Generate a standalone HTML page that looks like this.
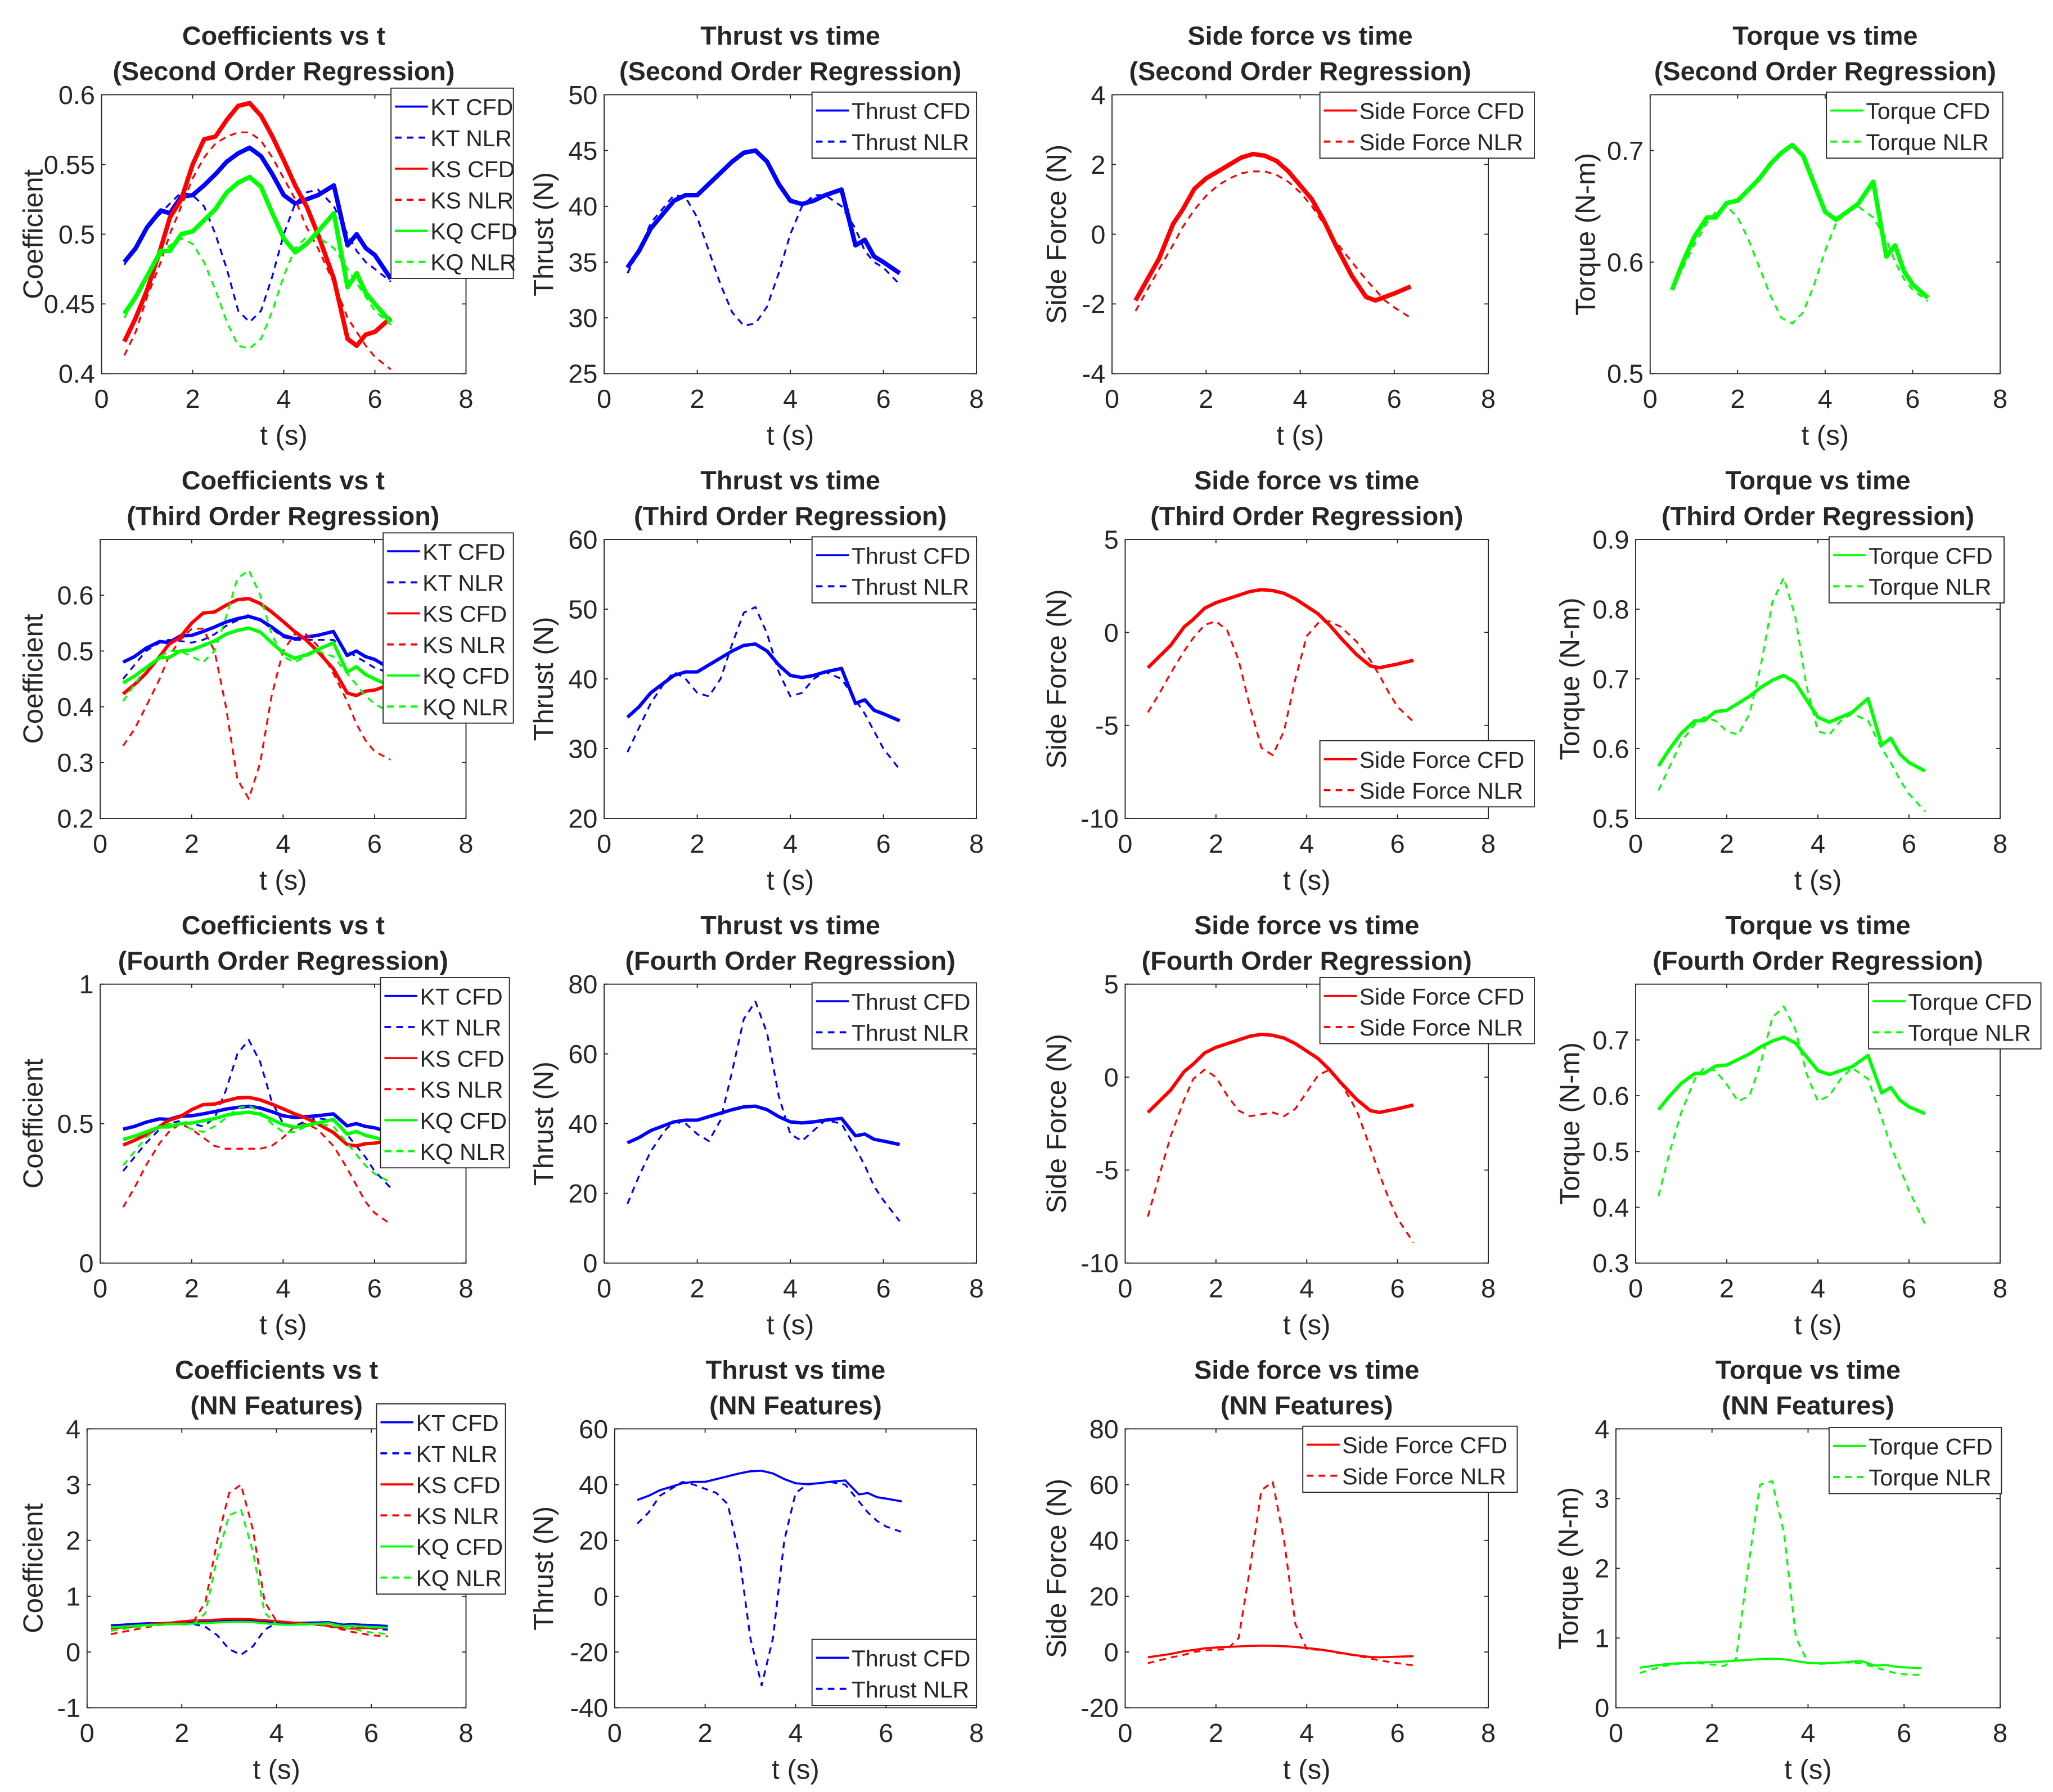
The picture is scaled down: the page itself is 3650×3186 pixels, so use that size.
<!DOCTYPE html>
<html><head><meta charset="utf-8"><style>
html,body{margin:0;padding:0;background:#fff;}
svg{display:block;}
text{font-family:"Liberation Sans",sans-serif;fill:#262626;}
</style></head><body>
<svg id="fig" xmlns="http://www.w3.org/2000/svg" width="3650" height="3186" viewBox="0 0 1560 1362"></svg>
<script>
const T = [0.5,0.75,1.0,1.3,1.5,1.75,2.0,2.25,2.5,2.75,3.0,3.25,3.5,3.75,4.0,4.25,4.5,4.75,5.1,5.4,5.6,5.8,6.0,6.35];
// CFD series (shared across rows)
const ktCFD = [0.48,0.49,0.505,0.517,0.515,0.527,0.528,0.535,0.543,0.552,0.558,0.562,0.556,0.543,0.528,0.522,0.525,0.528,0.535,0.492,0.50,0.49,0.485,0.468];
const ksCFD = [0.423,0.44,0.46,0.49,0.512,0.525,0.55,0.568,0.57,0.582,0.592,0.594,0.585,0.57,0.553,0.535,0.52,0.50,0.468,0.425,0.42,0.428,0.43,0.44];
const kqCFD = [0.443,0.455,0.47,0.488,0.488,0.5,0.502,0.51,0.518,0.53,0.537,0.541,0.534,0.515,0.497,0.487,0.493,0.502,0.515,0.462,0.472,0.458,0.45,0.437];
const thrustCFD = [34.5,36,38,39.5,40.5,41,41,42,43,44,44.8,45,44,42,40.5,40.2,40.5,41,41.5,36.5,37,35.5,35,34];
const sideCFD = [-1.9,-1.3,-0.7,0.3,0.7,1.3,1.6,1.8,2.0,2.2,2.3,2.25,2.1,1.8,1.4,1.0,0.4,-0.3,-1.2,-1.8,-1.9,-1.8,-1.7,-1.5];
const torqueCFD = [0.575,0.6,0.622,0.64,0.64,0.653,0.655,0.665,0.675,0.688,0.698,0.705,0.695,0.67,0.645,0.638,0.645,0.652,0.672,0.605,0.615,0.592,0.58,0.568];
// Row 1 NLR (second order)
const ktNLR1 = [0.478,0.492,0.505,0.515,0.522,0.53,0.528,0.52,0.50,0.475,0.445,0.437,0.445,0.47,0.50,0.522,0.53,0.532,0.52,0.50,0.488,0.48,0.475,0.466];
const ksNLR1 = [0.413,0.43,0.455,0.48,0.5,0.52,0.54,0.555,0.565,0.57,0.573,0.573,0.567,0.555,0.54,0.525,0.505,0.49,0.465,0.44,0.43,0.42,0.412,0.403];
const kqNLR1 = [0.44,0.455,0.47,0.485,0.492,0.497,0.493,0.48,0.46,0.437,0.42,0.418,0.425,0.445,0.47,0.49,0.498,0.498,0.49,0.475,0.465,0.455,0.445,0.435];
const thrustNLR1 = [34,36,38.5,40,41,40.8,39,36,33,30.5,29.3,29.5,31,34,37.5,40,41,41,40,38,36,35,34.5,33];
const sideNLR1 = [-2.2,-1.6,-1.0,-0.3,0.2,0.7,1.1,1.4,1.6,1.75,1.8,1.8,1.7,1.5,1.2,0.8,0.3,-0.2,-0.8,-1.3,-1.6,-1.9,-2.1,-2.4];
const torqueNLR1 = [0.575,0.595,0.615,0.635,0.645,0.65,0.64,0.62,0.595,0.57,0.55,0.545,0.555,0.58,0.61,0.635,0.645,0.65,0.64,0.62,0.6,0.585,0.575,0.565];
// Row 2 NLR (third order)
const ktNLR2 = [0.45,0.475,0.5,0.515,0.52,0.518,0.515,0.52,0.53,0.545,0.555,0.565,0.555,0.54,0.525,0.52,0.52,0.52,0.52,0.5,0.49,0.48,0.47,0.46];
const ksNLR2 = [0.33,0.36,0.4,0.45,0.49,0.52,0.54,0.54,0.5,0.4,0.27,0.235,0.3,0.42,0.5,0.53,0.53,0.51,0.46,0.41,0.37,0.34,0.32,0.305];
const kqNLR2 = [0.41,0.44,0.47,0.49,0.5,0.5,0.49,0.48,0.5,0.56,0.63,0.645,0.6,0.53,0.49,0.48,0.49,0.5,0.49,0.46,0.44,0.42,0.405,0.39];
const thrustNLR2 = [29.5,33,36.5,39.5,41,40,38,37.5,40,45,49.5,50.3,46.5,41,37.5,38,40,41,40,37,35,32.5,30,27];
const sideNLR2 = [-4.3,-3.3,-2.2,-1,-0.3,0.4,0.6,0.1,-1.5,-4,-6.2,-6.6,-5.3,-2.5,-0.2,0.5,0.6,0.3,-0.5,-1.5,-2.3,-3.2,-4,-4.8];
const torqueNLR2 = [0.54,0.575,0.61,0.635,0.645,0.64,0.625,0.62,0.65,0.72,0.81,0.845,0.79,0.69,0.625,0.62,0.64,0.65,0.64,0.6,0.58,0.555,0.535,0.51];
// Row 3 NLR (fourth order)
const ktNLR3 = [0.33,0.38,0.43,0.48,0.5,0.51,0.5,0.49,0.52,0.62,0.75,0.8,0.72,0.58,0.5,0.49,0.51,0.52,0.51,0.46,0.42,0.38,0.33,0.27];
const ksNLR3 = [0.2,0.27,0.35,0.43,0.47,0.5,0.48,0.45,0.42,0.41,0.41,0.41,0.41,0.42,0.45,0.49,0.5,0.48,0.42,0.34,0.28,0.22,0.18,0.14];
const kqNLR3 = [0.35,0.4,0.45,0.49,0.5,0.5,0.48,0.47,0.49,0.52,0.555,0.565,0.54,0.5,0.47,0.47,0.49,0.5,0.49,0.43,0.39,0.35,0.32,0.29];
const thrustNLR3 = [17,25,32,38,40.5,40,37,35,41,55,70,75,66,48,37,35,38,41,40,33,28,22,18,12];
const sideNLR3 = [-7.5,-5.3,-3.2,-1.2,-0.1,0.4,0,-1.0,-1.8,-2.1,-2.0,-1.9,-2.1,-1.7,-0.8,0.1,0.4,-0.3,-1.8,-3.8,-5.2,-6.5,-7.6,-8.9];
const torqueNLR3 = [0.42,0.5,0.57,0.63,0.65,0.645,0.62,0.59,0.6,0.66,0.74,0.76,0.72,0.64,0.59,0.6,0.63,0.65,0.63,0.56,0.51,0.47,0.43,0.37];
// Row 4 NLR (NN features)
const ktNLR4 = [0.42,0.45,0.48,0.5,0.51,0.51,0.5,0.5,0.45,0.3,0.05,-0.05,0.1,0.4,0.52,0.52,0.52,0.52,0.51,0.48,0.46,0.44,0.42,0.4];
const ksNLR4 = [0.32,0.36,0.4,0.45,0.48,0.5,0.52,0.55,0.9,2.0,2.85,3.0,2.2,0.9,0.55,0.53,0.52,0.5,0.46,0.4,0.36,0.33,0.3,0.28];
const kqNLR4 = [0.38,0.41,0.44,0.47,0.49,0.5,0.49,0.5,0.7,1.7,2.45,2.55,1.8,0.7,0.5,0.49,0.5,0.5,0.49,0.44,0.41,0.38,0.35,0.32];
const thrustNLR4 = [26,30,36,39,41,40,38.5,37,33,15,-15,-32,-15,20,37,40,40.5,41,40,34,30,27,25,23];
const sideNLR4 = [-4,-3,-2,-1,0,0.5,0.8,1,5,30,58,61,40,10,1,0.8,0.3,-0.5,-1.3,-2.3,-3,-3.5,-4,-4.8];
const torqueNLR4 = [0.5,0.55,0.6,0.63,0.65,0.64,0.62,0.6,0.7,2.0,3.2,3.25,2.5,1.0,0.65,0.63,0.64,0.65,0.64,0.58,0.54,0.5,0.48,0.47];
// axes ranges and ticks
const xTicks = [0,2,4,6,8];
const coefLims = [[0.4,0.6],[0.2,0.7],[0,1],[-1,4]];
const coefTicks = [["0.4","0.45","0.5","0.55","0.6"],["0.2","0.3","0.4","0.5","0.6"],["0","0.5","1"],["-1","0","1","2","3","4"]];
const thrustLims = [[25,50],[20,60],[0,80],[-40,60]];
const thrustTicks = [["25","30","35","40","45","50"],["20","30","40","50","60"],["0","20","40","60","80"],["-40","-20","0","20","40","60"]];
const sideLims = [[-4,4],[-10,5],[-10,5],[-20,80]];
const sideTicks = [["-4","-2","0","2","4"],["-10","-5","0","5"],["-10","-5","0","5"],["-20","0","20","40","60","80"]];
const torqueLims = [[0.5,0.75],[0.5,0.9],[0.3,0.8],[0,4]];
const torqueTicks = [["0.5","0.6","0.7"],["0.5","0.6","0.7","0.8","0.9"],["0.3","0.4","0.5","0.6","0.7"],["0","1","2","3","4"]];
const subtitles = ["(Second Order Regression)","(Third Order Regression)","(Fourth Order Regression)","(NN Features)"];

const NS="http://www.w3.org/2000/svg";
const svg=document.getElementById('fig');
function mk(tag,attrs,parent){const e=document.createElementNS(NS,tag);for(const k in attrs)e.setAttribute(k,attrs[k]);(parent||svg).appendChild(e);return e;}

const rowY=[[72,284],[410,622],[748,960],[1086,1298]];
const colX=[
 [[77,354],[459,742],[845,1131],[1254,1520]],
 [[76,354],[459,742],[855,1131],[1243,1520]],
 [[76,354],[459,742],[855,1131],[1243,1520]],
 [[66,354],[467,742],[855,1131],[1228,1520]]];
const ylabX=[[25,413,803,1205],[25,413,803,1193],[25,413,803,1193],[25,413,803,1192]];
const BLUE="#0000ff",RED="#ff0000",GREEN="#00ff00";
const legends=[
 [[297,67,93],[617,70,125],[1003,70,163],[1388,70,134]],
 [[291,405,99],[617,408,125],[1003,563,163],[1390,408,133]],
 [[289,743,98],[617,747,125],[1003,743,163],[1420,747,131]],
 [[286,1067,98],[617,1246,125],[990,1084,163],[1390,1085,131]]];

function panel(r,c,title,ylab,lims,ticks,series){
  const g=mk('g',{});
  
  
  const [x0,x1]=colX[r][c],[y0,y1]=rowY[r];
  const sx=v=>x0+(v-0)/8*(x1-x0);
  const sy=v=>y1-(v-lims[0])/(lims[1]-lims[0])*(y1-y0);
  const box=mk('rect',{x:x0,y:y0,width:x1-x0,height:y1-y0,fill:'#fff',stroke:'#262626','stroke-width':0.8},g);
  
  
  xTicks.forEach(v=>{
    const x=sx(v);
    mk('line',{x1:x,x2:x,y1:y1,y2:y1-3,stroke:'#262626','stroke-width':0.8},g);
    mk('line',{x1:x,x2:x,y1:y0,y2:y0+3,stroke:'#262626','stroke-width':0.8},g);
    const t=mk('text',{x:x,y:y1+26,'font-size':20,'text-anchor':'middle'},g);t.textContent=v;
    
    
  });
  ticks.forEach(s=>{
    const v=parseFloat(s),y=sy(v);
    mk('line',{x1:x0,x2:x0+3,y1:y,y2:y,stroke:'#262626','stroke-width':0.8},g);
    mk('line',{x1:x1,x2:x1-3,y1:y,y2:y,stroke:'#262626','stroke-width':0.8},g);
    const t=mk('text',{x:x0-5,y:y+7,'font-size':20,'text-anchor':'end'},g);t.textContent=s;
    
    
  });
  const cx=(x0+x1)/2;
  const t1=mk('text',{x:cx,y:y0-38,'font-size':20,'font-weight':'bold','text-anchor':'middle',fill:'#000'},g);t1.textContent=title;
  
  
  const t2=mk('text',{x:cx,y:y0-11,'font-size':20,'font-weight':'bold','text-anchor':'middle',fill:'#000'},g);t2.textContent=subtitles[r];
  
  
  const xl=mk('text',{x:cx,y:y1+54,'font-size':21,'text-anchor':'middle'},g);xl.textContent='t (s)';
  
  
  const yx=ylabX[r][c]+7,yc=(y0+y1)/2;
  const yl=mk('text',{x:yx,y:yc,'font-size':21,'text-anchor':'middle',transform:`rotate(-90 ${yx} ${yc})`},g);yl.textContent=ylab;
  
  
  series.forEach(s=>{
    const d=T.map((t,i)=>(i?'L':'M')+sx(t).toFixed(2)+','+sy(s.v[i]).toFixed(2)).join('');
    const w=s.dash?1.4:(r===0?3.4:(r<3?2.6:1.6));
    const p=mk('path',{d:d,fill:'none',stroke:s.col,'stroke-width':w,'stroke-dasharray':s.dash?'5,4':'none','stroke-linejoin':'round'},g);
    
    
  });
  const [lx,ly,lw]=legends[r][c];
  const n=series.length,lh=n*23.6+3;
  const lg=mk('g',{},g);
  
  
  mk('rect',{x:lx,y:ly,width:lw,height:lh,fill:'#fff',stroke:'#262626','stroke-width':0.8},lg);
  series.forEach((s,i)=>{
    const yy=ly+14+i*23.6;
    mk('line',{x1:lx+3,x2:lx+28,y1:yy,y2:yy,stroke:s.col,'stroke-width':1.6,'stroke-dasharray':s.dash?'5,4':'none'},lg);
    const lt=mk('text',{x:lx+30,y:yy+6.5,'font-size':17.5,fill:'#000'},lg);lt.textContent=s.name;
    
    
  });
}
const nlr=[[ktNLR1,ksNLR1,kqNLR1,thrustNLR1,sideNLR1,torqueNLR1],[ktNLR2,ksNLR2,kqNLR2,thrustNLR2,sideNLR2,torqueNLR2],[ktNLR3,ksNLR3,kqNLR3,thrustNLR3,sideNLR3,torqueNLR3],[ktNLR4,ksNLR4,kqNLR4,thrustNLR4,sideNLR4,torqueNLR4]];
for(let r=0;r<4;r++){
  const N=nlr[r];
  panel(r,0,'Coefficients vs t','Coefficient',coefLims[r],coefTicks[r],[
    {name:'KT CFD',v:ktCFD,col:BLUE},{name:'KT NLR',v:N[0],col:BLUE,dash:1},
    {name:'KS CFD',v:ksCFD,col:RED},{name:'KS NLR',v:N[1],col:RED,dash:1},
    {name:'KQ CFD',v:kqCFD,col:GREEN},{name:'KQ NLR',v:N[2],col:GREEN,dash:1}]);
  panel(r,1,'Thrust vs time','Thrust (N)',thrustLims[r],thrustTicks[r],[
    {name:'Thrust CFD',v:thrustCFD,col:BLUE},{name:'Thrust NLR',v:N[3],col:BLUE,dash:1}]);
  panel(r,2,'Side force vs time','Side Force (N)',sideLims[r],sideTicks[r],[
    {name:'Side Force CFD',v:sideCFD,col:RED},{name:'Side Force NLR',v:N[4],col:RED,dash:1}]);
  panel(r,3,'Torque vs time','Torque (N-m)',torqueLims[r],torqueTicks[r],[
    {name:'Torque CFD',v:torqueCFD,col:GREEN},{name:'Torque NLR',v:N[5],col:GREEN,dash:1}]);
}
</script>
</body></html>
